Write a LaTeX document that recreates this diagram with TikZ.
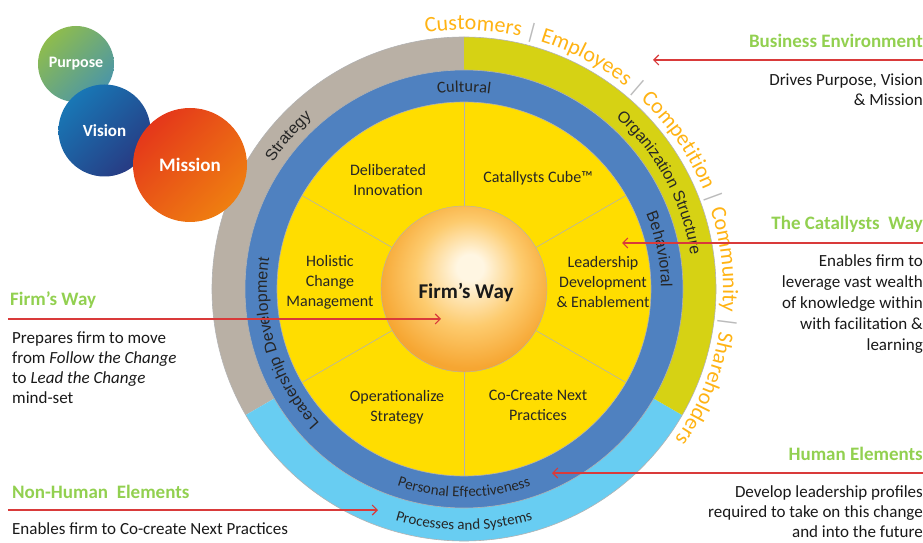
\documentclass[tikz,border=0pt]{standalone}
\usepackage{fontspec}
\setmainfont{Carlito}
\newfontfamily\arialfont{Liberation Sans}
\usepackage{tikz}
\usetikzlibrary{arrows.meta}
\usetikzlibrary{positioning}
\usetikzlibrary{shadings}
\usetikzlibrary{decorations.text}

\definecolor{ringgrey}{HTML}{B9B0A5}
\definecolor{ringolive}{HTML}{D6D214}
\definecolor{ringsky}{HTML}{68CDF2}
\definecolor{ringblue}{HTML}{4F81C0}
\definecolor{wheelyellow}{HTML}{FFDD00}
\definecolor{outerorange}{HTML}{FFB314}
\definecolor{sepgrey}{HTML}{BBBBBB}
\definecolor{headgreen}{HTML}{92D050}
\definecolor{arrowred}{HTML}{D93A3A}
\definecolor{sphlight}{HTML}{FFF6E2}
\definecolor{sphmid}{HTML}{FDCB6E}
\definecolor{sphdark}{HTML}{F6A632}
\definecolor{purposeA}{HTML}{9CC43A}
\definecolor{purposeM}{HTML}{6DA97C}
\definecolor{purposeB}{HTML}{3C8DBA}
\definecolor{visionA}{HTML}{1683C0}
\definecolor{visionM}{HTML}{1F5A9C}
\definecolor{visionB}{HTML}{2B2D78}
\definecolor{missionA}{HTML}{E2271C}
\definecolor{missionM}{HTML}{EA5E16}
\definecolor{missionB}{HTML}{F18C0E}

\pgfdeclareradialshading{firmball}{\pgfpoint{2bp}{7bp}}{color(0bp)=(sphlight); color(4bp)=(sphlight); color(16bp)=(sphmid); color(27bp)=(sphdark); color(50bp)=(sphdark)}

\newcommand{\outerfont}{\fontsize{22}{22}\selectfont\color{outerorange}}
\newcommand{\sepfont}{\fontsize{22}{22}\selectfont\color{sepgrey}}
\newcommand{\ringfont}{\arialfont\fontsize{16}{16}\selectfont\color{black!85}}
\newcommand{\bandfont}{\fontsize{15}{15}\selectfont\color{black!85}}

\begin{document}
\begin{tikzpicture}
  [
    x=1pt, y=1pt,
    >={Straight Barb[length=5pt,width=10pt]},
    pointer/.style  = {->, draw=arrowred, line width=1.1pt},
    heading/.style  = {inner sep=0pt, text=headgreen, font=\fontsize{19}{22}\selectfont\bfseries},
    note/.style     = {inner sep=0pt, text=black!90, font=\fontsize{17}{20}\selectfont},
    sector/.style   = {inner sep=0pt, align=center, text=black!85, font=\fontsize{16}{20}\selectfont},
    bubble/.style   = {circle, inner sep=0pt, text=white},
    ringline/.style = {draw=black!30, line width=0.6pt},
  ]

  \useasboundingbox (-464,-254) rectangle (459,289);

  % the radii
  \def\rOut{252}
  \def\rBand{219}
  \def\rWheel{187}
  \def\rCore{83}

  % the wheel
  \fill[ringgrey] (0,0) -- (90:\rOut) arc[start angle=90, end angle=210, radius=\rOut] -- cycle;
  \fill[ringsky] (0,0) -- (210:\rOut) arc[start angle=210, end angle=330, radius=\rOut] -- cycle;
  \fill[ringolive] (0,0) -- (-30:\rOut) arc[start angle=-30, end angle=90, radius=\rOut] -- cycle;
  \draw[ringline] (0,0) circle[radius=\rOut];
  \filldraw[ringline, fill=ringblue] (0,0) circle[radius=\rBand];
  \filldraw[ringline, fill=wheelyellow] (0,0) circle[radius=\rWheel];
  \foreach \a in {30,90,...,330}
    \draw[ringline] (\a:\rCore) -- (\a:\rWheel);
  \shadedraw[shading=firmball, draw=black!30] (0,0) circle[radius=\rCore];

  % purpose, vision, mission
  \node (purpose) at (-388,225) [bubble, minimum size=76pt, upper left=purposeA, lower right=purposeB, upper right=purposeM, lower left=purposeM, font=\fontsize{16}{16}\selectfont\bfseries] {Purpose};
  \node (vision) at (-359.5,158.5) [bubble, minimum size=92pt, upper left=visionA, lower right=visionB, upper right=visionM, lower left=visionM, font=\fontsize{17}{17}\selectfont\bfseries] {Vision};
  \node (mission) at (-274,124) [bubble, minimum size=114pt, upper left=missionA, lower right=missionB, upper right=missionM, lower left=missionM, font=\fontsize{19}{19}\selectfont\bfseries] {Mission};

  \node (firmway) at (2,-4) [text=black!90, font=\fontsize{21}{21}\selectfont\bfseries] {Firm’s Way};

  \node (innovation) at (-76,109) [sector] {Deliberated\\Innovation};
  \node (cube) at (74,111) [sector] {Catallysts Cube™};
  \node (enablement) at (139,7) [sector] {Leadership\\Development\\\& Enablement};
  \node (practices) at (74,-116) [sector] {Co-Create Next\\Practices};
  \node (strategy) at (-67,-118) [sector] {Operationalize\\Strategy};
  \node (holistic) at (-134,7) [sector] {Holistic\\Change\\Management};

  % ring labels
  \path[decorate, decoration={text along path, text align=center, text={|\fontsize{16.5}{16.5}\selectfont\color{black!85}|Cultural}}]
    (110:197) arc[start angle=110, end angle=70, radius=197];
  \path[decorate, decoration={text along path, text align=center, text={|\ringfont|Behavioral}}]
    (40:197) arc[start angle=40, end angle=-17, radius=197];
  \path[decorate, decoration={text along path, text align=center, text={|\ringfont|Leadership Development}}]
    (240:197) arc[start angle=240, end angle=154, radius=197];
  \path[decorate, decoration={text along path, text align=center, text={|\bandfont|Personal Effectiveness}}]
    (245:208) arc[start angle=245, end angle=295, radius=208];
  \path[decorate, decoration={text along path, text align=center, text={|\ringfont|Strategy}}]
    (165:229) arc[start angle=165, end angle=113, radius=229];
  \path[decorate, decoration={text along path, text align=center, text={|\ringfont|Organization Structure}}]
    (70:229) arc[start angle=70, end angle=-13, radius=229];
  \path[decorate, decoration={text along path, text align=center, text={|\bandfont|Processes and Systems}}]
    (245:241) arc[start angle=245, end angle=295, radius=241];

  % stakeholders round the wheel
  \path[decorate, decoration={text along path, text align=center, text format delimiters={[}{]},
      text={[\outerfont]Customers [\sepfont]| [\outerfont]Employees [\sepfont]| [\outerfont]Competition [\sepfont]| [\outerfont]Community [\sepfont]| [\outerfont]Shareholders}}]
    (115:259) arc[start angle=115, end angle=-52, radius=259];

  % notes on the right
  \node (envhead) at (459,241) [heading, anchor=base east] {Business Environment};
  \node (envtext) at (459,215) [note, anchor=north east, align=right] {Drives Purpose, Vision\\\& Mission};
  \coordinate (envstart) at (459,229);
  \coordinate (envtip) at (189,229);
  \draw[pointer] (envstart) -- (envtip);

  \node (wayhead) at (459,59) [heading, anchor=base east] {The Catallysts\ \ Way};
  \node (waytext) at (459,35) [note, anchor=north east, align=right, font=\fontsize{17}{21}\selectfont] {Enables firm to\\leverage vast wealth\\of knowledge within\\with facilitation \&\\learning};
  \coordinate (waystart) at (459,46);
  \coordinate (waytip) at (158,46);
  \draw[pointer] (waystart) -- (waytip);

  \node (humanhead) at (459,-171) [heading, anchor=base east] {Human Elements};
  \node (humantext) at (459,-196) [note, anchor=north east, align=right] {Develop leadership profiles\\required to take on this change\\and into the future};
  \coordinate (humanstart) at (459,-184);
  \coordinate (humantip) at (88,-184);
  \draw[pointer] (humanstart) -- (humantip);

  % notes on the left
  \node (firmhead) at (-454,-17) [heading, anchor=base west] {Firm’s Way};
  \node (firmtext) at (-452,-43) [note, anchor=north west, align=left] {Prepares firm to move\\from \textit{Follow the Change}\\to \textit{Lead the Change}\\mind-set};
  \coordinate (firmstart) at (-456,-30);
  \coordinate (firmtip) at (-23,-30);
  \draw[pointer] (firmstart) -- (firmtip);

  \node (nonhumanhead) at (-452,-209) [heading, anchor=base west] {Non-Human\ \ Elements};
  \node (nonhumantext) at (-452,-245) [note, anchor=base west] {Enables firm to Co-create Next Practices};
  \coordinate (nonhumanstart) at (-456,-221);
  \coordinate (nonhumantip) at (-86,-221);
  \draw[pointer] (nonhumanstart) -- (nonhumantip);

\end{tikzpicture}
\end{document}
